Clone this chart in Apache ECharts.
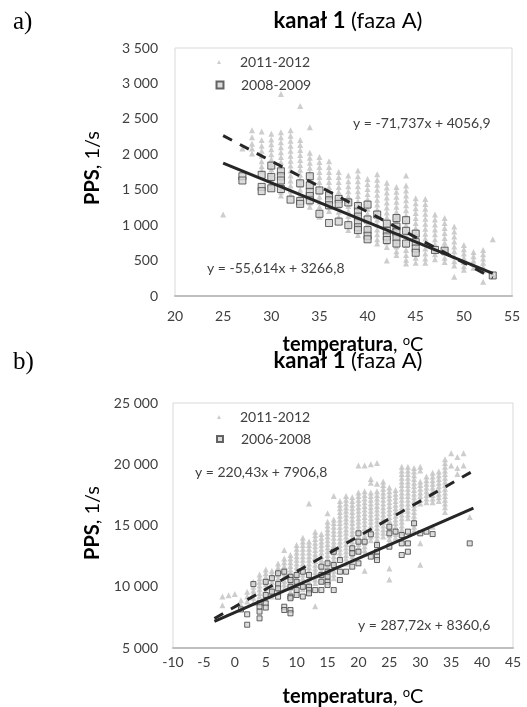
<!DOCTYPE html>
<html><head><meta charset="utf-8">
<script src="https://cdn.jsdelivr.net/npm/echarts@6/dist/echarts.min.js"></script>
<style>html,body{margin:0;padding:0;background:#fff}#c{width:527px;height:707px}</style>
</head><body><div id="c"></div><script>
// ---------- Panel a) data ----------
const xAxisA = [20, 55, 5];
const yAxisA = [0, 3500, 500];
// 2011-2012 (triangles): [temperature, [PPS values]]
const tri2011A = [
  [25, [1150]],
  [27, [2080]],
  [28, [2340, 2240, 2150, 2080, 2010]],
  [29, [2320, 2200, 2120, 2050, 1980, 1900, 1830, 1770]],
  [30, [2290, 2210, 2140, 2070, 2000, 1930, 1860, 1790, 1720, 1650, 1580, 1520]],
  [31, [2850, 2310, 2240, 2170, 2100, 2030, 1960, 1890, 1820, 1750, 1680, 1610, 1540, 1470, 1420]],
  [32, [2340, 2260, 2190, 2120, 2050, 1980, 1910, 1840, 1770, 1700, 1630, 1560, 1490, 1430]],
  [33, [2680, 2200, 2130, 2060, 1990, 1920, 1850, 1780, 1710, 1640, 1570, 1500, 1430, 1360, 1290]],
  [34, [2380, 2020, 1950, 1880, 1810, 1740, 1670, 1600, 1530, 1460, 1390, 1320, 1260]],
  [35, [1960, 1890, 1820, 1750, 1680, 1610, 1540, 1470, 1400, 1330, 1260, 1190, 1120]],
  [36, [1900, 1820, 1750, 1680, 1610, 1540, 1470, 1400, 1330, 1260, 1200]],
  [37, [1750, 1680, 1610, 1540, 1470, 1400, 1330, 1260, 1190, 1120]],
  [38, [1700, 1620, 1550, 1480, 1410, 1340, 1270, 1200, 1130, 1060, 990, 930]],
  [39, [1770, 1690, 1620, 1550, 1480, 1410, 1340, 1270, 1200, 1130, 1060, 990, 920, 860]],
  [40, [1650, 1580, 1510, 1440, 1370, 1300, 1230, 1160, 1090, 1020, 950, 880, 800]],
  [41, [1720, 1640, 1570, 1500, 1430, 1360, 1290, 1220, 1150, 1080, 1010, 940, 870, 800, 740]],
  [42, [1600, 1530, 1460, 1390, 1320, 1250, 1180, 1110, 1040, 970, 900, 830, 760, 690, 500]],
  [43, [1540, 1470, 1400, 1330, 1260, 1190, 1120, 1050, 980, 910, 840, 770, 700, 630, 580]],
  [44, [1700, 1560, 1490, 1420, 1350, 1280, 1210, 1140, 1070, 1000, 930, 860, 790, 720, 650, 580, 510, 460]],
  [45, [1380, 1310, 1240, 1170, 1100, 1030, 960, 890, 820, 750, 680, 610, 540, 470]],
  [46, [1370, 1300, 1230, 1160, 1090, 1020, 950, 880, 810, 740, 670, 600, 530, 470]],
  [47, [1150, 1080, 1010, 940, 870, 800, 730, 660, 590, 520]],
  [48, [1100, 1030, 960, 890, 820, 750, 680, 610, 540, 480]],
  [49, [980, 910, 840, 770, 700, 630, 560, 490, 430, 270]],
  [50, [720, 660, 600, 540, 480, 420, 370]],
  [51, [620, 560, 500, 450, 400]],
  [52, [650, 590, 530, 470, 410, 360, 200]],
  [53, [800, 300]]
];
// 2008-2009 (squares)
const sq2008A = [
  [27, [1690, 1630]],
  [29, [1710, 1540, 1480]],
  [30, [1840, 1680, 1520]],
  [31, [1760, 1690, 1630, 1510]],
  [32, [1360]],
  [33, [1590, 1340, 1300]],
  [34, [1690, 1560, 1470, 1410, 1350]],
  [35, [1490, 1160]],
  [36, [1420, 1350, 1280, 1030]],
  [37, [1370, 1300, 1050]],
  [38, [1320, 1000]],
  [39, [1270, 1190, 1120, 1040, 970, 930]],
  [40, [1290, 1080, 930, 850, 800]],
  [41, [1150]],
  [42, [1020, 920, 840, 790]],
  [43, [1100, 980, 900, 830, 740]],
  [44, [1070, 920, 740]],
  [45, [880, 760, 670, 610]],
  [47, [650]],
  [48, [640]],
  [53, [290]]
];
// trend lines [slope, intercept] and their x span
const trendA2011 = [-71.737, 4056.9];
const trendA2008 = [-55.614, 3266.8];
const spanA = [25, 53];
const eqA2011 = 'y = -71,737x + 4056,9';
const eqA2008 = 'y = -55,614x + 3266,8';

// ---------- Panel b) data ----------
const xAxisB = [-10, 45, 5];
const yAxisB = [5000, 25000, 5000];
const tri2011B = [
  [-2, [9200, 8500]],
  [-1, [9300]],
  [0, [9400]],
  [1, [8900, 8500]],
  [2, [9600, 9200, 8800]],
  [3, [10400, 10000, 9700, 9400, 9100, 8700]],
  [4, [11000, 10700, 10400, 10100, 9800, 9500, 9200]],
  [5, [11400, 11100, 10800, 10500, 10200, 9900, 9600, 9300, 9000]],
  [6, [11300, 11000, 10700, 10400, 10100, 9800, 9500, 9200]],
  [7, [11900, 11600, 11300, 11000, 10700, 10400, 10100, 9800, 9500]],
  [8, [13000, 12300, 12000, 11700, 11400, 11100, 10800, 10500, 10200, 9900]],
  [9, [12600, 12300, 12000, 11700, 11400, 11100, 10800, 10500, 10200, 9900, 9600, 9200]],
  [10, [13400, 13100, 12800, 12500, 12200, 11900, 11600, 11300, 11000, 10700, 10400, 10100, 9800, 9500]],
  [11, [14000, 13700, 13400, 13100, 12800, 12500, 12200, 11900, 11600, 11300, 11000, 10700, 10400, 10100, 9800]],
  [12, [16800, 13700, 13400, 13100, 12800, 12500, 12200, 11900, 11600, 11300, 11000, 10700, 10400, 10100, 9800, 9500]],
  [13, [14500, 14200, 13900, 13600, 13300, 13000, 12700, 12400, 12100, 11800, 11500, 11200, 10900, 10600, 10300, 8400]],
  [14, [14300, 14000, 13700, 13400, 13100, 12800, 12500, 12200, 11900, 11600, 11300, 11000, 10700, 10400]],
  [15, [16000, 15300, 15000, 14700, 14400, 14100, 13800, 13500, 13200, 12900, 12600, 12300, 12000, 11700, 11400, 11100, 10800, 10500]],
  [16, [17400, 15500, 15200, 14900, 14600, 14300, 14000, 13700, 13400, 13100, 12800, 12500, 12200, 11900, 11600, 11300, 11000, 10700]],
  [17, [17000, 16700, 16400, 16100, 15800, 15500, 15200, 14900, 14600, 14300, 14000, 13700, 13400, 13100, 12800, 12500]],
  [18, [17400, 17100, 16800, 16500, 16200, 15900, 15600, 15300, 15000, 14700, 14400, 14100, 13800, 13500, 13200, 12900, 12600, 12300, 11900]],
  [19, [17300, 17000, 16700, 16400, 16100, 15800, 15500, 15200, 14900, 14600, 14300, 14000, 13700, 13400, 13100, 12800, 12500, 12200]],
  [20, [19900, 17700, 17400, 17100, 16800, 16500, 16200, 15900, 15600, 15300, 15000, 14700, 14400, 14100, 13800, 13500, 13200, 12900]],
  [21, [19900, 17800, 17500, 17200, 16900, 16600, 16300, 16000, 15700, 15400, 15100, 14800, 14500, 14200, 13900, 13600, 13300, 13000, 12700, 11300]],
  [22, [20000, 18800, 18500, 17700, 17400, 17100, 16800, 16500, 16200, 15900, 15600, 15300, 15000, 14700, 14400, 14100, 13800]],
  [23, [20100, 18400, 17800, 17500, 17200, 16900, 16600, 16300, 16000, 15700, 15400, 15100, 14800, 14500, 14200, 13900, 13600]],
  [24, [18600, 18300, 18000, 17700, 17400, 17100, 16800, 16500, 16200, 15900, 15600, 15300, 15000, 14700, 14400, 14100]],
  [25, [18100, 17800, 17500, 17200, 16900, 16600, 16300, 16000, 15700, 15400, 15100, 14800, 14500, 14200, 13900, 13600, 11500, 10600]],
  [26, [17900, 17600, 17300, 17000, 16700, 16400, 16100, 15800, 15500, 15200, 14900, 14600, 14300, 14000]],
  [27, [19800, 19500, 19200, 18900, 18600, 18300, 18000, 17700, 17400, 17100, 16800, 16500, 16200, 15900, 15600, 15300, 15000, 14700, 14400]],
  [28, [19800, 19500, 19200, 18900, 18600, 18300, 18000, 17700, 17400, 17100, 16800, 16500, 16200, 15900, 15600]],
  [29, [19700, 19400, 19100, 18800, 18500, 18200, 17900, 17600, 17300, 17000, 16700, 16400, 16100, 15800, 15500, 15200, 14900, 14600]],
  [30, [19800, 19500, 18600, 18300, 18000, 17700, 17400, 17100, 16800, 13550, 11800]],
  [31, [19000, 18700, 18400, 18100, 17800, 17500, 17200, 16900]],
  [32, [19300, 19000, 18700, 18400, 18100, 17800, 17500, 17200, 16900, 14900]],
  [33, [19400, 19100, 18800, 18500, 18200, 17900, 17600, 17300, 17000]],
  [34, [20400, 20100, 19800, 19500, 19200, 18900, 18600, 18300, 18000, 17700, 17400, 17100, 16800, 16500, 16100]],
  [35, [20900, 19900]],
  [36, [20600, 19700, 19200]],
  [37, [20900, 19900]],
  [38, [15700]]
];
// 2006-2008 (squares)
const sq2006B = [
  [1, [8150]],
  [2, [7750, 6900]],
  [3, [10220]],
  [4, [8650, 8370, 7970, 7420]],
  [5, [10400, 9330, 8650, 8300]],
  [6, [10700, 9600]],
  [7, [11100, 10220, 9870, 9190]],
  [8, [11230, 8370, 8100]],
  [9, [10820, 10550, 10000, 9190, 9060, 8100, 7830]],
  [10, [10960, 10410, 9730, 9330]],
  [11, [11230, 10000, 9200]],
  [12, [10960, 10000, 9730, 9460]],
  [13, [9730]],
  [14, [11640, 10960, 10410, 9730]],
  [15, [11910, 11230, 10820, 10410, 10140]],
  [16, [12860, 11770, 9730]],
  [17, [12180, 11230, 10550]],
  [18, [11230]],
  [19, [13140, 12730, 11640]],
  [20, [14360, 13680, 12860, 11910]],
  [21, [13680]],
  [22, [14280, 12460]],
  [23, [13410, 12860, 12460, 12180]],
  [25, [14900, 14360, 13270]],
  [26, [14500]],
  [27, [14220, 13540, 12590]],
  [28, [14500, 13540, 12860]],
  [29, [15180]],
  [30, [14360]],
  [31, [14500]],
  [32, [14300]],
  [38, [13540]]
];
const trendB2011 = [287.72, 8360.6];
const trendB2006 = [220.43, 7906.8];
const spanB = [-3.3, 38.6];
const eqB2006 = 'y = 220,43x + 7906,8';
const eqB2011 = 'y = 287,72x + 8360,6';

// ---------- helpers ----------
const FONT = 'Lato, "Noto Sans", sans-serif';
const TXT = '#404040';
function flat(cols) { const out = []; cols.forEach(([x, ys]) => ys.forEach(y => out.push([x, y]))); return out; }
function trend(coef, span) { return span.map(x => [x, coef[0] * x + coef[1]]); }
const fmt = v => String(v).replace(/\B(?=(\d{3})+(?!\d))/g, ' ');

function xAx(g, r, margin) {
  return { gridIndex: g, type: 'value', min: r[0], max: r[1], interval: r[2],
    axisLine: { show: true, onZero: false, lineStyle: { color: '#bfbfbf', width: 2 } },
    axisTick: { show: false }, splitLine: { show: false },
    axisLabel: { color: TXT, fontSize: 14, fontFamily: FONT, margin: margin } };
}
function yAx(g, r, margin) {
  return { gridIndex: g, type: 'value', min: r[0], max: r[1], interval: r[2],
    axisLine: { show: false }, axisTick: { show: false }, splitLine: { show: false },
    axisLabel: { color: TXT, fontSize: 14, fontFamily: FONT, margin: margin, formatter: fmt } };
}
function triSeries(name, idx, data) {
  return { type: 'scatter', name: name, xAxisIndex: idx, yAxisIndex: idx, data: flat(data),
    symbol: 'triangle', symbolSize: 6, itemStyle: { color: '#c0c0c0' }, z: 2 };
}
function sqSeries(name, idx, data, size) {
  return { type: 'scatter', name: name, xAxisIndex: idx, yAxisIndex: idx, data: flat(data),
    symbol: 'rect', symbolSize: size, itemStyle: { color: '#d4d4d4', borderColor: '#404040', borderWidth: 1 }, z: 3 };
}
function lineSeries(name, idx, coef, span, dashed) {
  return { type: 'line', name: name, xAxisIndex: idx, yAxisIndex: idx, data: trend(coef, span),
    symbol: 'none', z: 4,
    lineStyle: { color: '#262626', width: 3, type: dashed ? [10, 9] : 'solid' } };
}
// legend: icon centred at x=219, text starting at x=240
function legendFor(name, top, icon, size) {
  const left = 219 - size / 2;
  const pad = 240 - (left + size + 5);
  return { data: [name], left: left, top: top, padding: 0, itemWidth: size, itemHeight: size, icon: icon,
    selectedMode: false, textStyle: { color: TXT, fontSize: 14, fontFamily: FONT, padding: [0, 0, 0, pad] } };
}
function txt(x, y, text, opts) {
  const o = opts || {};
  return { type: 'text', x: x, y: y, rotation: o.rot || 0, silent: true,
    style: Object.assign({ text: text, fill: o.fill || TXT, fontSize: o.size || 14, fontFamily: o.family || FONT,
      fontWeight: o.weight || 'normal', align: o.align || 'left', textAlign: o.align || 'left',
      verticalAlign: 'middle', textVerticalAlign: 'middle' }, o.rich ? { rich: o.rich } : {}) };
}
const titleRich = { b: { fontWeight: 'bold', fontSize: 22, fontFamily: FONT, fill: '#000', color: '#000' } };
const nameRich = { b: { fontWeight: 'bold', fontSize: 20, fontFamily: FONT, fill: '#000', color: '#000' },
  n: { fontSize: 20, fontFamily: FONT, fill: '#000', color: '#000' },
  s: { fontSize: 13, fontFamily: FONT, fill: '#000', color: '#000', padding: [0, 0, 9, 0] } };

const chart = echarts.init(document.getElementById('c'), null, { renderer: 'canvas' });
chart.setOption({
  animation: false,
  backgroundColor: '#fff',
  grid: [
    { left: 175, top: 48, width: 337, height: 248, show: true, borderColor: '#d9d9d9', borderWidth: 1 },
    { left: 173, top: 403, width: 340, height: 245, show: true, borderColor: '#d9d9d9', borderWidth: 1 }
  ],
  xAxis: [xAx(0, xAxisA, 13), xAx(1, xAxisB, 7)],
  yAxis: [yAx(0, yAxisA, 17), yAx(1, yAxisB, 15)],
  legend: [
    legendFor('2011-2012', 55, 'triangle', 4),
    legendFor('2008-2009', 78, 'rect', 7),
    legendFor('2011-2012 ', 410, 'triangle', 4),
    legendFor('2006-2008', 432, 'rect', 6)
  ],
  series: [
    triSeries('2011-2012', 0, tri2011A),
    sqSeries('2008-2009', 0, sq2008A, 7),
    lineSeries('trend 2011-2012 a', 0, trendA2011, spanA, true),
    lineSeries('trend 2008-2009 a', 0, trendA2008, spanA, false),
    triSeries('2011-2012 ', 1, tri2011B),
    sqSeries('2006-2008', 1, sq2006B, 5),
    lineSeries('trend 2011-2012 b', 1, trendB2011, spanB, true),
    lineSeries('trend 2006-2008 b', 1, trendB2006, spanB, false)
  ],
  graphic: [
    txt(13, 22, 'a)', { family: '"Liberation Serif", serif', size: 25, fill: '#000' }),
    txt(13, 362, 'b)', { family: '"Liberation Serif", serif', size: 25, fill: '#000' }),
    txt(348, 21, '{b|kanał 1} (faza A)', { align: 'center', size: 22, fill: '#000', rich: titleRich }),
    txt(348, 361, '{b|kanał 1} (faza A)', { align: 'center', size: 22, fill: '#000', rich: titleRich }),
    txt(93, 168, '{b|PPS}{n|, 1/s}', { align: 'center', rot: Math.PI / 2, rich: nameRich, size: 20, fill: '#000' }),
    txt(93, 523, '{b|PPS}{n|, 1/s}', { align: 'center', rot: Math.PI / 2, rich: nameRich, size: 20, fill: '#000' }),
    txt(353, 345, '{b|temperatura}{n|, }{s|o}{n|C}', { align: 'center', rich: nameRich, size: 20, fill: '#000' }),
    txt(353, 697, '{b|temperatura}{n|, }{s|o}{n|C}', { align: 'center', rich: nameRich, size: 20, fill: '#000' }),
    txt(353, 123, eqA2011),
    txt(207, 268, eqA2008),
    txt(195, 472, eqB2006),
    txt(358, 625, eqB2011)
  ]
});
</script></body></html>
